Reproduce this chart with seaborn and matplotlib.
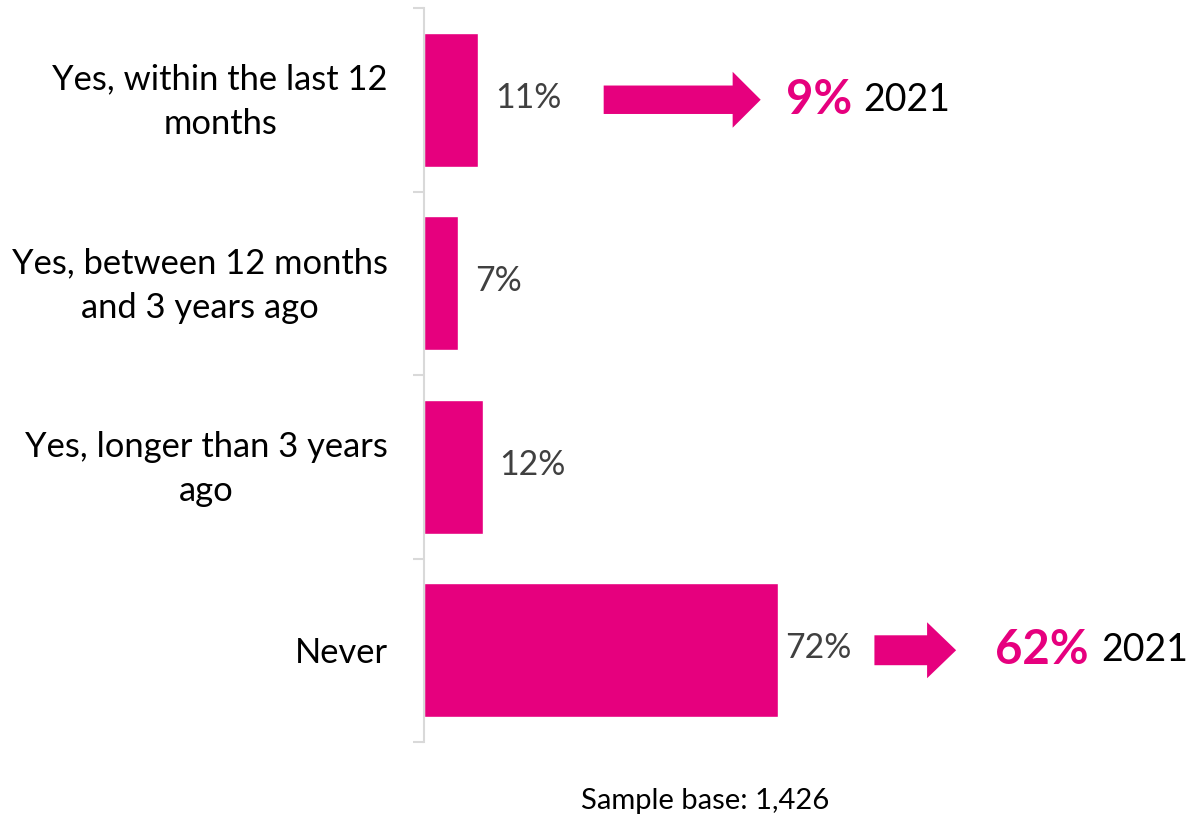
import matplotlib
matplotlib.use("Agg")
import matplotlib.pyplot as plt
from matplotlib.patches import FancyArrow
from matplotlib.transforms import ScaledTranslation
import seaborn as sns
import pandas as pd

# Survey responses (share of sample, %)
responses = [
    "Yes, within the last 12\nmonths",
    "Yes, between 12 months\nand 3 years ago",
    "Yes, longer than 3 years\nago",
    "Never",
]
shares = [11, 7, 12, 72]

# Comparison figures from the previous wave
prev_year_label = "2021"
prev_year_index = [0, 3]
prev_year_values = [9, 62]

sample_note = "Sample base: 1,426"

MAGENTA = "#E6007E"
GRID_GREY = "#D9D9D9"
LABEL_GREY = "#404040"

sns.set_theme(style="white")
plt.rcParams["font.family"] = ["Lato", "DejaVu Sans"]

df = pd.DataFrame({"response": responses, "share": shares})

W, H = 1187, 819
fig = plt.figure(figsize=(W / 100, H / 100), dpi=100)
ax = fig.add_axes([424 / W, 1 - 742 / H, 1 - 424 / W, 734 / H])

sns.barplot(data=df, y="response", x="share", color=MAGENTA, saturation=1,
            width=0.73, orient="h", ax=ax)

ax.set_xlim(0, 155)
ax.set_ylim(len(responses) - 0.5, -0.5)
ax.set_xlabel("")
ax.set_ylabel("")
ax.set_xticks([])

# Category labels on the left, boundary ticks between bands
ax.set_yticks(range(len(responses)))
ax.set_yticklabels(responses, multialignment="center", linespacing=1.48,
                   fontsize=24.8, color="black")
ax.tick_params(axis="y", which="major", length=0, pad=26)
ax.set_yticks([i - 0.5 for i in range(len(responses) + 1)], minor=True)
ax.tick_params(axis="y", which="minor", length=8, width=1.5,
               color=GRID_GREY, direction="out", left=True)

# Nudge the two-line labels up so both lines sit centred on their bar
for lab in ax.get_yticklabels():
    if "\n" in lab.get_text():
        lab.set_transform(lab.get_transform()
                          + ScaledTranslation(0, 0.07, fig.dpi_scale_trans))

for side in ("top", "right", "bottom"):
    ax.spines[side].set_visible(False)
ax.spines["left"].set_color(GRID_GREY)
ax.spines["left"].set_linewidth(1.5)

# Value labels at the end of each bar
label_pads = [12.5, 12.0, 11.5, 5]
for i, (v, p) in enumerate(zip(shares, label_pads)):
    ax.annotate(f"{v}%", xy=(v, i), xytext=(p, 1.5), textcoords="offset points",
                ha="left", va="center", fontsize=24.3, color=LABEL_GREY)

# Arrows pointing to the previous-wave figures
arrow_specs = [
    # x start, x tip, head length, shaft width, head width
    (36.5, 68.4, 5.7, 0.155, 0.305),
    (91.5, 108.1, 5.9, 0.163, 0.305),
]
text_x = [(73.6, 89.2), (116.0, 137.5)]
for idx, val, (x0, x1, hl, sw, hw), (tx1, tx2) in zip(
        prev_year_index, prev_year_values, arrow_specs, text_x):
    ax.add_patch(FancyArrow(x0, idx, x1 - x0, 0, width=sw, head_width=hw,
                            head_length=hl, length_includes_head=True,
                            color=MAGENTA, lw=0, clip_on=False))
    ax.text(tx1, idx, f"{val}%", ha="left", va="center", fontsize=34,
            fontweight="bold", color=MAGENTA, clip_on=False)
    ax.text(tx2, idx, prev_year_label, ha="left", va="center", fontsize=27,
            color="black", clip_on=False)

fig.text(705 / W, 1 - 801 / H, sample_note, ha="center", va="center",
         fontsize=21, color="black")

fig.savefig("out.png", dpi=100)
